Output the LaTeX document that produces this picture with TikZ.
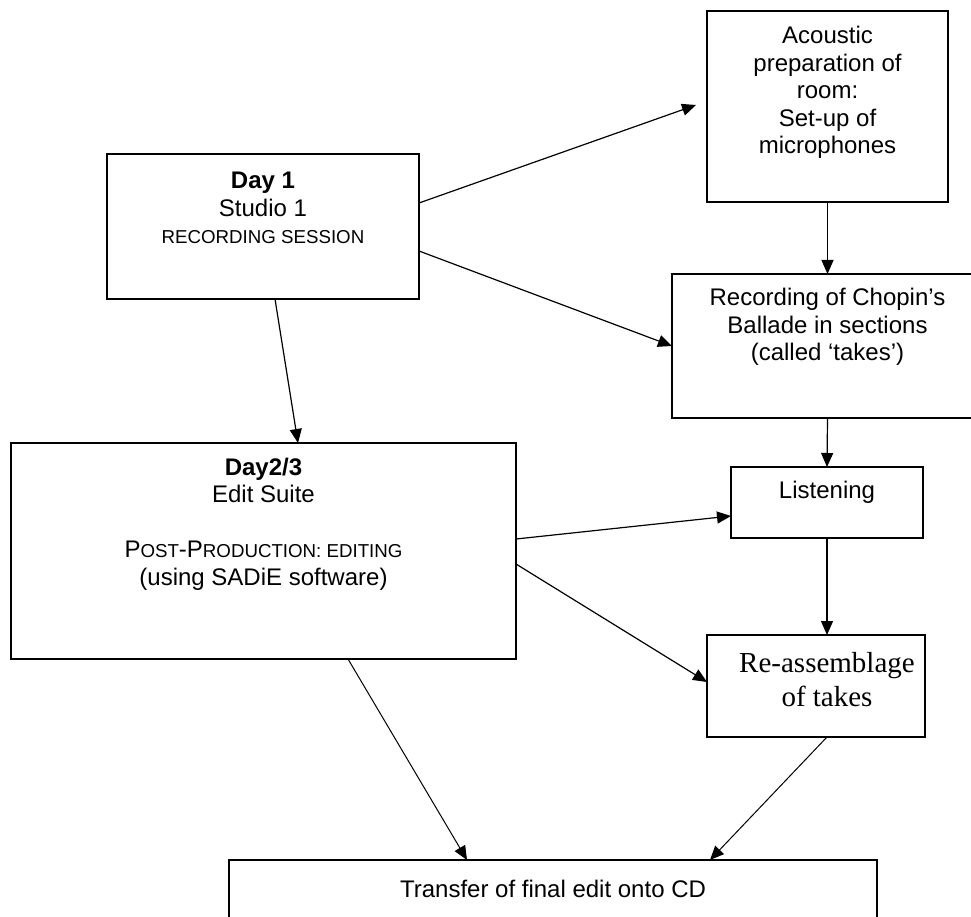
\documentclass[tikz,border=0pt]{standalone}
\usepackage{fontspec}
\setmainfont{Liberation Sans}
\newfontfamily\timesf{Liberation Serif}
\usetikzlibrary{arrows.meta}
\newcommand\bigsz{\fontsize{24}{27.5}\selectfont}
\newcommand\smsz{\fontsize{18.7}{27.5}\selectfont}
\begin{document}
\begin{tikzpicture}[x=1pt,y=-1pt,
  box/.style={draw, line width=1.3pt, rectangle, inner sep=0pt, outer sep=0pt, anchor=north west},
  txt/.style={align=center, font=\bigsz, inner sep=0pt},
  arr/.style={-{Triangle[length=14pt,width=12pt]}, line width=1.2pt},
  thinarr/.style={-{Triangle[length=14pt,width=12pt]}, line width=1pt},
]
\useasboundingbox (0,0) rectangle (971,917);
\clip (0,0) rectangle (971,917);
% boxes
\node[box, minimum width=312pt, minimum height=145pt] (day1) at (107,154) {};
\node[box, minimum width=241pt, minimum height=191pt] (acoustic) at (707,11) {};
\node[box, minimum width=311pt, minimum height=144pt] (record) at (672,274) {};
\node[box, minimum width=505pt, minimum height=216pt] (day23) at (11,443) {};
\node[box, minimum width=192pt, minimum height=71pt] (listen) at (731,467) {};
\node[box, minimum width=218pt, minimum height=102pt] (reasm) at (707,635) {};
\node[box, minimum width=648pt, minimum height=100pt] (transfer) at (229,860) {};
% texts
\node[txt] (tday1) at (263,208) {\textbf{Day 1}\\Studio 1\\{\smsz RECORDING SESSION}};
\node[txt] (tacoustic) at (827.5,92.5) {Acoustic\\preparation of\\room:\\Set-up of\\microphones};
\node[txt] (trecord) at (827.5,327) {Recording of Chopin’s\\Ballade in sections\\(called ‘takes’)};
\node[txt] (tday23) at (263.5,524) {\textbf{Day2/3}\\Edit Suite\\[27.5pt]P{\smsz OST}-P{\smsz RODUCTION: EDITING}\\(using SADiE software)};
\node[txt] (tlisten) at (827,492) {Listening};
\node[txt, font=\timesf\fontsize{29}{34}\selectfont] (treasm) at (827,680) {Re-assemblage\\of takes};
\node[txt] (ttransfer) at (553,889) {Transfer of final edit onto CD};
% connectors
\draw[arr] ([yshift=23.5pt]day1.east) -- ([xshift=-11pt,yshift=1.5pt]acoustic.west);
\draw[arr] (acoustic.south) -- (record.north);
\draw[arr] ([yshift=-24.5pt]day1.east) -- (record.west);
\draw[arr] ([xshift=12pt]day1.south) -- ([xshift=34.5pt]day23.north);
\draw[arr] (record.south) -- (listen.north);
\draw[arr] ([yshift=12pt]day23.east) -- ([yshift=-13.5pt]listen.west);
\draw[arr] ([yshift=-13pt]day23.east) -- ([yshift=4pt]reasm.west);
\draw[arr] (listen.south) -- ([xshift=11pt]reasm.north);
\draw[thinarr] ([xshift=84.5pt]day23.south) -- ([xshift=-86pt]transfer.north);
\draw[thinarr] ([xshift=11pt]reasm.south) -- ([xshift=157pt]transfer.north);
\end{tikzpicture}
\end{document}
